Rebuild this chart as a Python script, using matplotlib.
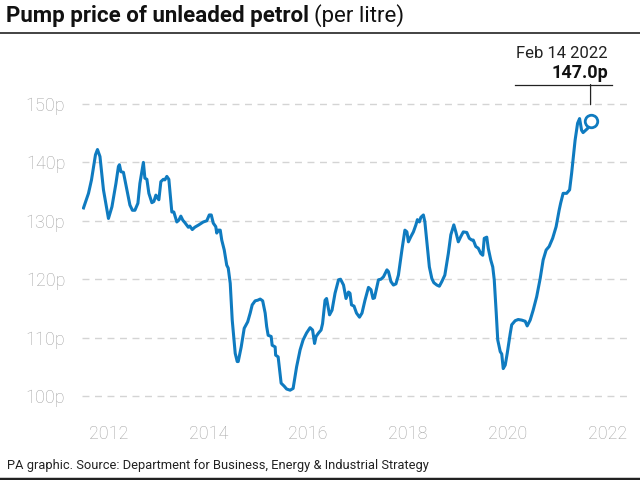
import matplotlib
matplotlib.use("Agg")
import matplotlib.pyplot as plt
from matplotlib.lines import Line2D

# weekly-ish readings, decimal year / pence per litre
years = [2012.00, 2012.10, 2012.16, 2012.24, 2012.28, 2012.33, 2012.40, 2012.44, 2012.50, 2012.57,
         2012.65, 2012.70, 2012.72, 2012.75, 2012.80, 2012.87, 2012.93, 2012.98, 2013.03, 2013.09,
         2013.13, 2013.17, 2013.20, 2013.23, 2013.27, 2013.31, 2013.37, 2013.41, 2013.45, 2013.49,
         2013.51, 2013.55, 2013.60, 2013.63, 2013.67, 2013.71, 2013.77, 2013.81, 2013.87, 2013.91,
         2013.95, 2013.99, 2014.03, 2014.10, 2014.13, 2014.18, 2014.23, 2014.31, 2014.40, 2014.47,
         2014.52, 2014.56, 2014.60, 2014.65, 2014.67, 2014.70, 2014.74, 2014.77, 2014.82, 2014.87,
         2014.90, 2014.94, 2014.98, 2015.04, 2015.08, 2015.10, 2015.16, 2015.22, 2015.29, 2015.34,
         2015.38, 2015.44, 2015.49, 2015.54, 2015.59, 2015.64, 2015.67, 2015.70, 2015.76, 2015.78,
         2015.84, 2015.85, 2015.90, 2015.96, 2016.02, 2016.07, 2016.14, 2016.20, 2016.27, 2016.34,
         2016.40, 2016.47, 2016.54, 2016.59, 2016.63, 2016.66, 2016.71, 2016.76, 2016.79, 2016.84,
         2016.87, 2016.93, 2016.98, 2017.04, 2017.11, 2017.15, 2017.21, 2017.26, 2017.31, 2017.34,
         2017.37, 2017.42, 2017.47, 2017.53, 2017.58, 2017.64, 2017.71, 2017.76, 2017.80, 2017.83,
         2017.88, 2017.91, 2017.96, 2018.01, 2018.08, 2018.11, 2018.16, 2018.21, 2018.26, 2018.31,
         2018.38, 2018.44, 2018.48, 2018.51, 2018.56, 2018.61, 2018.66, 2018.69, 2018.73, 2018.76,
         2018.81, 2018.84, 2018.89, 2018.93, 2018.98, 2019.02, 2019.08, 2019.13, 2019.18, 2019.24,
         2019.31, 2019.36, 2019.42, 2019.46, 2019.51, 2019.56, 2019.61, 2019.68, 2019.73, 2019.78,
         2019.81, 2019.86, 2019.91, 2019.96, 2020.00, 2020.03, 2020.08, 2020.11, 2020.16, 2020.20,
         2020.23, 2020.27, 2020.30, 2020.35, 2020.38, 2020.41, 2020.45, 2020.49, 2020.55, 2020.58,
         2020.65, 2020.71, 2020.78, 2020.85, 2020.89, 2020.95, 2021.01, 2021.08, 2021.15, 2021.21,
         2021.27, 2021.33, 2021.40, 2021.47, 2021.53, 2021.56, 2021.61, 2021.68, 2021.74, 2021.78,
         2021.85, 2021.90, 2021.94, 2021.98, 2022.01, 2022.06, 2022.10, 2022.16]
price = [132.2, 134.7, 137.0, 141.3, 142.2, 141.0, 135.3, 133.3, 130.4, 132.4,
         136.4, 139.3, 139.6, 138.4, 138.3, 135.3, 132.7, 131.8, 131.8, 133.0,
         136.4, 138.4, 140.0, 137.3, 137.1, 134.7, 133.1, 133.3, 134.4, 133.8,
         133.6, 136.7, 137.1, 137.0, 137.6, 137.1, 131.5, 131.5, 129.8, 130.1,
         130.8, 130.1, 129.7, 128.9, 129.1, 128.5, 128.9, 129.3, 129.8, 130.0,
         131.0, 131.0, 129.6, 129.0, 127.9, 128.4, 128.4, 126.7, 125.0, 122.4,
         121.9, 119.3, 113.0, 107.3, 105.9, 105.9, 108.4, 111.6, 112.7, 114.2,
         115.6, 116.3, 116.4, 116.6, 116.3, 114.2, 111.9, 110.4, 110.2, 108.7,
         108.4, 107.0, 106.7, 102.2, 101.7, 101.2, 101.0, 101.3, 105.0, 107.9,
         109.6, 110.8, 111.7, 111.3, 109.0, 110.2, 110.8, 111.3, 112.4, 116.4,
         116.7, 113.9, 114.7, 117.6, 119.9, 120.0, 119.0, 116.7, 117.8, 117.6,
         115.6, 115.4, 114.2, 113.5, 114.2, 116.4, 118.6, 118.2, 116.7, 116.8,
         118.7, 119.9, 120.0, 120.4, 121.6, 121.3, 119.6, 119.0, 119.2, 120.7,
         125.0, 128.4, 128.1, 126.4, 127.3, 128.1, 129.3, 130.2, 129.8, 130.6,
         131.0, 129.8, 125.6, 122.1, 120.1, 119.4, 119.0, 118.8, 119.6, 120.7,
         124.4, 127.6, 129.3, 128.1, 126.4, 127.3, 128.1, 128.0, 127.0, 126.7,
         126.7, 125.6, 125.3, 124.4, 124.1, 127.0, 127.2, 125.3, 123.3, 122.1,
         119.9, 114.2, 109.6, 107.6, 107.2, 104.7, 105.3, 107.3, 110.7, 112.2,
         112.9, 113.1, 113.0, 112.8, 112.0, 113.0, 114.7, 117.0, 120.1, 123.3,
         125.0, 125.6, 127.0, 129.0, 131.8, 133.0, 134.7, 134.7, 135.3, 138.1,
         143.8, 146.7, 147.5, 145.5, 145.1, 145.5, 145.8, 147.0]

y_ticks = [100, 110, 120, 130, 140, 150]
y_labels = ["100p", "110p", "120p", "130p", "140p", "150p"]
x_ticks = [2012.5, 2014.5, 2016.5, 2018.5, 2020.5, 2022.5]
x_labels = ["2012", "2014", "2016", "2018", "2020", "2022"]

last_date = "Feb 14 2022"
last_value = "147.0p"

blue = "#0f7bc0"
grey = "#a3a3a3"
font = "Roboto"

fig = plt.figure(figsize=(6.4, 4.8), dpi=100)
ax = fig.add_axes([82 / 640, 80 / 480, 546 / 640, 300 / 480])

for v in y_ticks:
    ax.axhline(v, color="#d4d4d4", lw=1, ls=(0, (5, 4)), zorder=0)

ax.plot(years, price, color=blue, lw=2.2, solid_joinstyle="round", zorder=3)
ax.plot(years[-1], price[-1], "o", ms=9, mfc="white", mec=blue, mew=2, zorder=4)

ax.set_xlim(2011.97, 2022.91)
ax.set_ylim(99.32, 150.68)
ax.set_yticks(y_ticks)
ax.set_yticklabels(y_labels)
ax.set_xticks(x_ticks)
ax.set_xticklabels(x_labels)
ax.tick_params(length=0, labelsize=13, labelcolor=grey)
ax.tick_params(axis="y", pad=12)
ax.tick_params(axis="x", pad=18)
for lab in ax.get_xticklabels() + ax.get_yticklabels():
    lab.set_family(font)
    lab.set_fontweight("light")
for s in ax.spines.values():
    s.set_visible(False)

# annotation for latest value
ax.annotate("", xy=(years[-1], 149.4), xytext=(years[-1], 153.8),
            arrowprops=dict(arrowstyle="-", color="#222222", lw=0.9),
            annotation_clip=False)
fig.add_artist(Line2D([515 / 640, 612 / 640], [1 - 85 / 480, 1 - 85 / 480],
                      color="#222222", lw=0.9))
fig.text(608 / 640, 1 - 53 / 480, last_date, ha="right", va="center",
         fontsize=12, family=font, color="#222222")
fig.text(608 / 640, 1 - 73 / 480, last_value, ha="right", va="center",
         fontsize=13, family=font, fontweight="bold", color="#111111")

# title
t1 = fig.text(6 / 640, 1 - 16 / 480, "Pump price of unleaded petrol", ha="left", va="center",
              fontsize=16, family=font, fontweight="bold", color="#111111")
fig.canvas.draw()
bb = t1.get_window_extent()
fig.text(bb.x1 / 640 + 0.008, 1 - 16 / 480, "(per litre)", ha="left", va="center",
         fontsize=16, family=font, color="#111111")
fig.add_artist(Line2D([0, 1], [1 - 33 / 480, 1 - 33 / 480], color="#222222", lw=1.2))

# footer
fig.text(7 / 640, 1 - 465 / 480,
         "PA graphic. Source: Department for Business, Energy & Industrial Strategy",
         ha="left", va="center", fontsize=9.3, family=font, color="#222222")
fig.add_artist(Line2D([0, 1], [1 - 478.5 / 480, 1 - 478.5 / 480], color="#222222", lw=2.5))

fig.savefig("out.png", dpi=100)
